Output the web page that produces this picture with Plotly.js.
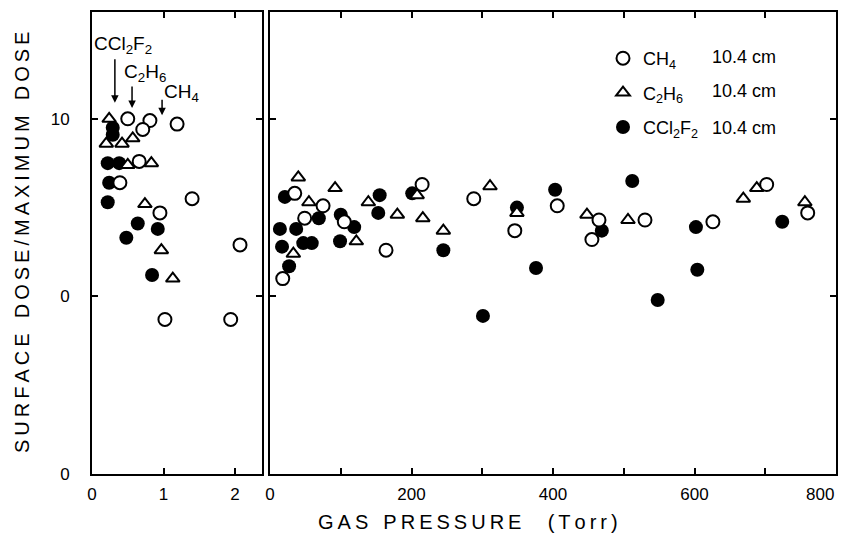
<!DOCTYPE html>
<html>
<head>
<meta charset="utf-8">
<script src="https://cdn.plot.ly/plotly-3.0.1.min.js"></script>
<style>html,body{margin:0;padding:0;background:#fff;}#chart{width:846px;height:533px;}</style>
</head>
<body>
<div id="chart"></div>
<script>
// ---- data ----
const seriesNames = ["CH<sub>4</sub>", "C<sub>2</sub>H<sub>6</sub>", "CCl<sub>2</sub>F<sub>2</sub>"];
const distanceLabel = "10.4 cm";

// left panel: pressure 0-2.4 Torr
const ch4LeftX = [0.50, 0.81, 0.71, 1.19, 0.66, 0.39, 1.40, 0.95, 2.07, 1.02, 1.94];
const ch4LeftY = [1.000, 0.999, 0.994, 0.997, 0.976, 0.964, 0.955, 0.947, 0.929, 0.887, 0.887];
const c2h6LeftX = [0.24, 0.20, 0.42, 0.57, 0.50, 0.83, 0.74, 0.97, 1.13];
const c2h6LeftY = [1.000, 0.986, 0.986, 0.989, 0.974, 0.975, 0.952, 0.926, 0.910];
const ccl2f2LeftX = [0.29, 0.29, 0.22, 0.38, 0.24, 0.22, 0.64, 0.92, 0.48, 0.84];
const ccl2f2LeftY = [0.995, 0.991, 0.975, 0.975, 0.964, 0.953, 0.941, 0.938, 0.933, 0.912];

// right panel: pressure 0-800 Torr
const ch4RightX = [18, 35, 49, 75, 105, 164, 215, 288, 346, 406, 455, 465, 530, 626, 702, 760];
const ch4RightY = [0.910, 0.958, 0.944, 0.951, 0.942, 0.926, 0.963, 0.955, 0.937, 0.951, 0.932, 0.943, 0.943, 0.942, 0.963, 0.947];
const c2h6RightX = [33, 40, 55, 92, 122, 139, 180, 208, 216, 245, 311, 349, 448, 506, 669, 688, 756];
const c2h6RightY = [0.924, 0.967, 0.953, 0.961, 0.931, 0.953, 0.946, 0.957, 0.944, 0.937, 0.962, 0.947, 0.946, 0.943, 0.955, 0.961, 0.953];
const ccl2f2RightX = [14, 17, 21, 27, 37, 47, 59, 69, 99, 100, 119, 153, 155, 201, 245, 301, 349, 376, 403, 469, 512, 548, 602, 604, 724];
const ccl2f2RightY = [0.938, 0.928, 0.956, 0.917, 0.938, 0.930, 0.930, 0.944, 0.931, 0.946, 0.939, 0.947, 0.957, 0.958, 0.926, 0.889, 0.950, 0.916, 0.960, 0.937, 0.965, 0.898, 0.939, 0.915, 0.942];

// tick labels
const yTickVals = [0.8, 0.9, 1.0];
const yTickText = ["0", "0", "10"];
const xLeftTickVals = [0, 1, 2];
const xLeftTickText = ["0", "1", "2"];
const xRightTickVals = [0, 200, 400, 600, 800];
const xRightTickText = ["0", "200", "400", "600", "800"];

// arrow labels in the left panel
const arrowLabels = ["CCl<sub>2</sub>F<sub>2</sub>", "C<sub>2</sub>H<sub>6</sub>", "CH<sub>4</sub>"];
const arrowLabelX = [0.43, 0.74, 1.25];
const arrowLabelY = [1.0415, 1.0255, 1.0145];
const arrowTipX = [0.32, 0.56, 0.98];
const arrowTipY = [1.009, 1.006, 1.002];
const arrowLen = [45, 23, 17];

// ---- chart ----
const FONT = "Liberation Sans, Arial, sans-serif";
const W = 846, H = 533;
const px = (v) => v / W;
const py = (v) => (H - v) / H;

const openCircle = {symbol: "circle", size: 13, color: "#fff", line: {color: "#000", width: 2}};
const openTri = {symbol: "triangle-up", size: 12, color: "#fff", line: {color: "#000", width: 2}};
const filled = {symbol: "circle", size: 14, color: "#000", line: {color: "#000", width: 0}};

function tr(x, y, marker, name, xa, ya, show, group) {
  return {type: "scatter", mode: "markers", x: x, y: y, marker: marker, name: name,
          xaxis: xa, yaxis: ya, showlegend: show, legendgroup: group, cliponaxis: false};
}

const data = [
  tr(ccl2f2LeftX, ccl2f2LeftY, filled, seriesNames[2], "x", "y", false, "c"),
  tr(c2h6LeftX, c2h6LeftY, openTri, seriesNames[1], "x", "y", false, "b"),
  tr(ch4LeftX, ch4LeftY, openCircle, seriesNames[0], "x", "y", false, "a"),
  tr(ccl2f2RightX, ccl2f2RightY, filled, seriesNames[2], "x2", "y2", true, "c"),
  tr(c2h6RightX, c2h6RightY, openTri, seriesNames[1], "x2", "y2", true, "b"),
  tr(ch4RightX, ch4RightY, openCircle, seriesNames[0], "x2", "y2", true, "a")
];
data[3].legendrank = 3; data[4].legendrank = 2; data[5].legendrank = 1;

const axisCommon = {
  showline: true, linecolor: "#000", linewidth: 2, mirror: "ticks",
  ticks: "inside", ticklen: 6, tickwidth: 2, tickcolor: "#000",
  showgrid: false, zeroline: false, fixedrange: true,
  tickfont: {family: FONT, size: 17, color: "#000"}
};

const yTop = 1.0 + (119 - 12) / 1780;

const annotations = [];
for (let i = 0; i < arrowLabels.length; i++) {
  annotations.push({xref: "x", yref: "y", x: arrowLabelX[i], y: arrowLabelY[i], text: arrowLabels[i],
    showarrow: false, font: {family: FONT, size: 19, color: "#000"}});
  annotations.push({xref: "x", yref: "y", x: arrowTipX[i], y: arrowTipY[i], text: "",
    showarrow: true, ax: 0, ay: -arrowLen[i], arrowhead: 2, arrowsize: 1, arrowwidth: 1.5, arrowcolor: "#000"});
}
const legendRowsY = [57, 91, 128];
legendRowsY.forEach(function (r) {
  annotations.push({xref: "paper", yref: "paper", x: px(710), y: py(r), xanchor: "left", yanchor: "middle",
    text: distanceLabel, showarrow: false, font: {family: FONT, size: 18, color: "#000"}});
});
annotations.push({xref: "paper", yref: "paper", x: px(22), y: py(243), xanchor: "center", yanchor: "middle", textangle: -90,
  text: "S U R F A C E\u00a0\u00a0 D O S E / M A X I M U M\u00a0\u00a0 D O S E".replace(/ /g, "\u2009"),
  showarrow: false, font: {family: FONT, size: 20, color: "#000"}});
annotations.push({xref: "paper", yref: "paper", x: px(468), y: py(522), xanchor: "center", yanchor: "middle",
  text: "G A S\u00a0\u00a0 P R E S S U R E\u00a0\u00a0\u00a0\u00a0 ( T o r r )".replace(/ /g, "\u2009"),
  showarrow: false, font: {family: FONT, size: 20, color: "#000"}});

// the last right-panel label sits inside the frame's right edge in the reference
const lastIdx = xRightTickVals.length - 1;
annotations.push({xref: "x2", yref: "paper", x: xRightTickVals[lastIdx], y: py(494), xanchor: "right", yanchor: "middle",
  text: xRightTickText[lastIdx], showarrow: false, font: {family: FONT, size: 17, color: "#000"}});

const layout = {
  width: W, height: H,
  margin: {l: 0, r: 0, t: 0, b: 0},
  paper_bgcolor: "#fff", plot_bgcolor: "#fff",
  showlegend: true,
  legend: {x: px(603), y: py(40), xanchor: "left", yanchor: "top", bgcolor: "rgba(0,0,0,0)",
           font: {family: FONT, size: 18, color: "#000"}, tracegroupgap: 8, itemsizing: "trace"},
  xaxis: Object.assign({}, axisCommon, {domain: [px(92), px(262)], range: [0, (262 - 92) / 71.5],
    tickvals: xLeftTickVals, ticktext: xLeftTickText, anchor: "y", ticklabelstandoff: 4}),
  xaxis2: Object.assign({}, axisCommon, {domain: [px(270), px(836)], range: [0, 800],
    tickvals: xRightTickVals, ticktext: xRightTickText.slice(0, lastIdx).concat([""]), anchor: "y2", ticklabelstandoff: 4,
    minor: {dtick: 100, tick0: 0, ticks: "inside", ticklen: 6, tickwidth: 2, tickcolor: "#000"}}),
  yaxis: Object.assign({}, axisCommon, {domain: [py(474), py(12)], range: [0.8, yTop],
    tickvals: yTickVals, ticktext: yTickText, anchor: "x", ticklabelstandoff: 17}),
  yaxis2: Object.assign({}, axisCommon, {domain: [py(474), py(12)], range: [0.8, yTop],
    tickvals: yTickVals, showticklabels: false, anchor: "x2"}),
  annotations: annotations
};

Plotly.newPlot("chart", data, layout, {displayModeBar: false, staticPlot: true});
</script>
</body>
</html>
